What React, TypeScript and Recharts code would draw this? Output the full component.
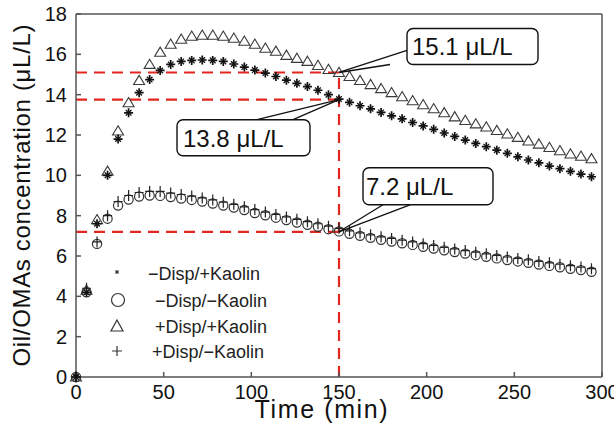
import { Label, ReferenceDot, ReferenceLine, Scatter, ScatterChart, XAxis, YAxis } from "recharts";

// sampling times (min)
const times = [
  0, 6, 12, 18, 24, 30, 36, 42, 48, 54, 60, 66, 72, 78, 84, 90, 96, 102, 108, 114, 120, 126, 132, 138, 144,
  150, 156, 162, 168, 174, 180, 186, 192, 198, 204, 210, 216, 222, 228, 234, 240, 246, 252, 258, 264, 270,
  276, 282, 288, 294
];

// -Disp/+Kaolin (*)
const noDispKaolin = [
  0, 4.2, 7.6, 10.0, 11.8, 13.1, 14.1, 14.75, 15.2, 15.5, 15.65, 15.7, 15.72, 15.7, 15.65, 15.52, 15.37, 15.22,
  15.07, 14.9, 14.72, 14.56, 14.4, 14.22, 14.0, 13.78, 13.62, 13.45, 13.3, 13.12, 12.95, 12.8, 12.62, 12.45,
  12.28, 12.1, 11.93, 11.75, 11.58, 11.42, 11.25, 11.09, 10.92, 10.76, 10.62, 10.46, 10.33, 10.2, 10.06, 9.93
];

// -Disp/-Kaolin (o)
const noDispNoKaolin = [
  0, 4.2, 6.6, 7.85, 8.5, 8.8, 8.95, 9.0, 8.98, 8.92, 8.85, 8.78, 8.7, 8.6, 8.5, 8.4, 8.28, 8.13, 8.02, 7.9,
  7.78, 7.66, 7.55, 7.45, 7.33, 7.22, 7.1, 7.0, 6.9, 6.8, 6.72, 6.63, 6.55, 6.46, 6.37, 6.28, 6.2, 6.12, 6.04,
  5.96, 5.88, 5.8, 5.73, 5.66, 5.58, 5.51, 5.44, 5.37, 5.3, 5.22
];

// +Disp/+Kaolin (triangle)
const dispKaolin = [
  0, 4.3, 7.8, 10.2, 12.2, 13.6, 14.7, 15.5, 16.1, 16.5, 16.75, 16.9, 16.95, 16.95, 16.9, 16.8, 16.65, 16.5,
  16.3, 16.15, 15.95, 15.8, 15.65, 15.45, 15.25, 15.1, 14.9, 14.7, 14.5, 14.3, 14.1, 13.9, 13.7, 13.5, 13.3,
  13.1, 12.9, 12.72, 12.55, 12.4, 12.22, 12.05, 11.88, 11.7, 11.55, 11.38, 11.22, 11.06, 10.95, 10.82
];

// +Disp/-Kaolin (+)
const dispNoKaolin = [
  0, 4.4, 6.7, 8.0, 8.7, 9.0, 9.15, 9.2, 9.2, 9.12, 9.05, 8.97, 8.88, 8.78, 8.67, 8.56, 8.44, 8.3, 8.18, 8.06,
  7.94, 7.82, 7.7, 7.6, 7.48, 7.37, 7.25, 7.15, 7.05, 6.95, 6.87, 6.78, 6.7, 6.61, 6.52, 6.43, 6.35, 6.27,
  6.19, 6.11, 6.03, 5.95, 5.88, 5.81, 5.73, 5.66, 5.59, 5.52, 5.45, 5.37
];

const xTicks = [0, 50, 100, 150, 200, 250, 300];
const yTicks = [0, 2, 4, 6, 8, 10, 12, 14, 16, 18];
const legendNames = ["\u2212Disp/+Kaolin", "\u2212Disp/\u2212Kaolin", "+Disp/+Kaolin", "+Disp/\u2212Kaolin"];

// highlighted readings at t = 150 min
const markTime = 150;
const markValues = [15.1, 13.75, 7.2];
const markLabels = ["15.1 \u03bcL/L", "13.8 \u03bcL/L", "7.2 \u03bcL/L"];

// callout box geometry, px relative to the marked point
const calloutBoxes = [
  { dx: 68, dy: -44, w: 131, h: 36, tx: 73, legs: [[68, -22], [51, -8]] },
  { dx: -162, dy: 20, w: 133, h: 36, tx: -156, legs: [[-82, 20], [-46, 20]] },
  { dx: 24, dy: -64, w: 130, h: 37, tx: 27, legs: [[44, -27], [71, -27]] }
];

const FONT = "'Liberation Sans', Arial, sans-serif";
const RED = "#e3261f";

const toPoints = (vals: number[]) => times.map((t, i) => ({ t, v: vals[i] }));

function TriMark(p: any) {
  const { cx, cy } = p;
  if (cx == null || cy == null) return null;
  return (
    <path d={`M${cx} ${cy - 5.2}L${cx + 5.5} ${cy + 4}L${cx - 5.5} ${cy + 4}Z`} fill="none" stroke="#3a3a3a" strokeWidth={1.1} />
  );
}

function CircleMark(p: any) {
  const { cx, cy } = p;
  if (cx == null || cy == null) return null;
  return <circle cx={cx} cy={cy} r={4.6} fill="none" stroke="#333" strokeWidth={1.2} />;
}

function PlusMark(p: any) {
  const { cx, cy } = p;
  if (cx == null || cy == null) return null;
  return (
    <path d={`M${cx} ${cy - 5.5}V${cy + 5.5}M${cx - 4.5} ${cy}H${cx + 4.5}`} stroke="#222" strokeWidth={1.2} fill="none" />
  );
}

function StarMark(p: any) {
  const { cx, cy } = p;
  if (cx == null || cy == null) return null;
  return (
    <g stroke="#111" strokeWidth={1.7} fill="none">
      <path d={`M${cx} ${cy - 4.5}V${cy + 4.5}M${cx - 4.5} ${cy}H${cx + 4.5}`} />
      <path d={`M${cx - 2.8} ${cy - 2.8}L${cx + 2.8} ${cy + 2.8}M${cx - 2.8} ${cy + 2.8}L${cx + 2.8} ${cy - 2.8}`} strokeWidth={1.3} />
    </g>
  );
}

function makeCallout(i: number) {
  return (p: any) => {
    const { cx, cy } = p;
    if (cx == null || cy == null) return <g />;
    const b = calloutBoxes[i];
    return (
      <g>
        <rect x={cx + b.dx} y={cy + b.dy} width={b.w} height={b.h} rx={6} fill="#fff" stroke="#111" strokeWidth={1.4} />
        {b.legs.map((l, k) => (
          <line key={k} x1={cx} y1={cy} x2={cx + l[0]} y2={cy + l[1]} stroke="#111" strokeWidth={1.3} />
        ))}
        <text x={cx + b.tx} y={cy + b.dy + 27} fontSize={24} fontFamily={FONT} fill="#111">
          {markLabels[i]}
        </text>
      </g>
    );
  };
}

function XTitle(p: any) {
  const vb = p.viewBox;
  return (
    <text x={vb.x + vb.width * 0.466} y={vb.y + 41} textAnchor="middle" fontSize={25} fontFamily={FONT} fill="#111" textLength={133} lengthAdjust="spacing">
      Time (min)
    </text>
  );
}

function YTitle(p: any) {
  const vb = p.viewBox;
  const x = vb.x + 30;
  const y = vb.y + vb.height / 2;
  return (
    <text x={x} y={y} transform={`rotate(-90, ${x}, ${y})`} textAnchor="middle" fontSize={24} fontFamily={FONT} fill="#111" textLength={342} lengthAdjust="spacing">
      Oil/OMAs concentration (μL/L)
    </text>
  );
}

function LegendOverlay() {
  const rows = [273, 300, 326, 351];
  const textX = [148, 155, 155, 152];
  const mx = 117;
  return (
    <svg width={614} height={426} style={{ position: "absolute", left: 0, top: 0, pointerEvents: "none" }}>
      <g stroke="#333" fill="none">
        <path d={`M${mx} ${rows[0] - 3}V${rows[0] + 1}M${mx - 2} ${rows[0] - 1}H${mx + 2}M${mx - 1.5} ${rows[0] - 2.5}L${mx + 1.5} ${rows[0] + 0.5}M${mx - 1.5} ${rows[0] + 0.5}L${mx + 1.5} ${rows[0] - 2.5}`} strokeWidth={1} />
        <circle cx={mx + 1} cy={rows[1]} r={6.5} strokeWidth={1.2} />
        <path d={`M${mx} ${rows[2] - 6}L${mx + 6} ${rows[2] + 5}L${mx - 6} ${rows[2] + 5}Z`} strokeWidth={1.2} />
        <path d={`M${mx} ${rows[3] - 5}V${rows[3] + 5}M${mx - 5} ${rows[3]}H${mx + 5}`} strokeWidth={1.2} />
      </g>
      {legendNames.map((n, i) => (
        <text key={n} x={textX[i]} y={rows[i] + 6.5} fontSize={18} fontFamily={FONT} fill="#222">
          {n}
        </text>
      ))}
    </svg>
  );
}

export default function App() {
  const axisStroke = { stroke: "#555", strokeWidth: 1.5 };
  const tickStyle = { fontSize: 20, fontFamily: FONT, fill: "#111" };
  return (
    <div style={{ position: "absolute", left: 0, top: 0, width: 614, height: 426, background: "#fff" }}>
      <ScatterChart width={614} height={426} margin={{ top: 13, right: 11, bottom: 0, left: 0 }}>
        <XAxis
          dataKey="t"
          type="number"
          domain={[0, 300]}
          ticks={xTicks}
          height={49}
          axisLine={axisStroke}
          tickLine={axisStroke}
          tickSize={-5}
          tickMargin={13}
          tick={tickStyle}
          interval={0}
          label={<Label content={XTitle} />}
        />
        <XAxis xAxisId="top" orientation="top" type="number" domain={[0, 300]} ticks={xTicks} height={1} axisLine={axisStroke} tickLine={axisStroke} tickSize={-5} tick={false} />
        <YAxis
          dataKey="v"
          type="number"
          domain={[0, 18]}
          ticks={yTicks}
          width={76}
          axisLine={axisStroke}
          tickLine={axisStroke}
          tickSize={-5}
          tickMargin={14}
          tick={tickStyle}
          interval={0}
          label={<Label content={YTitle} />}
        />
        <YAxis yAxisId="right" orientation="right" type="number" domain={[0, 18]} ticks={yTicks} width={1} axisLine={axisStroke} tickLine={axisStroke} tickSize={-5} tick={false} />

        {markValues.map((v) => (
          <ReferenceLine key={v} segment={[{ x: 0, y: v }, { x: markTime, y: v }]} stroke={RED} strokeWidth={2.2} strokeDasharray="11 7" />
        ))}
        <ReferenceLine segment={[{ x: markTime, y: 0 }, { x: markTime, y: markValues[0] }]} stroke={RED} strokeWidth={2.2} strokeDasharray="11 7" />

        <Scatter name={legendNames[2]} data={toPoints(dispKaolin)} shape={TriMark} isAnimationActive={false} />
        <Scatter name={legendNames[1]} data={toPoints(noDispNoKaolin)} shape={CircleMark} isAnimationActive={false} />
        <Scatter name={legendNames[3]} data={toPoints(dispNoKaolin)} shape={PlusMark} isAnimationActive={false} />
        <Scatter name={legendNames[0]} data={toPoints(noDispKaolin)} shape={StarMark} isAnimationActive={false} />

        {markValues.map((v, i) => (
          <ReferenceDot key={"c" + i} x={markTime} y={v} r={0} shape={makeCallout(i)} />
        ))}
      </ScatterChart>
      <LegendOverlay />
    </div>
  );
}
